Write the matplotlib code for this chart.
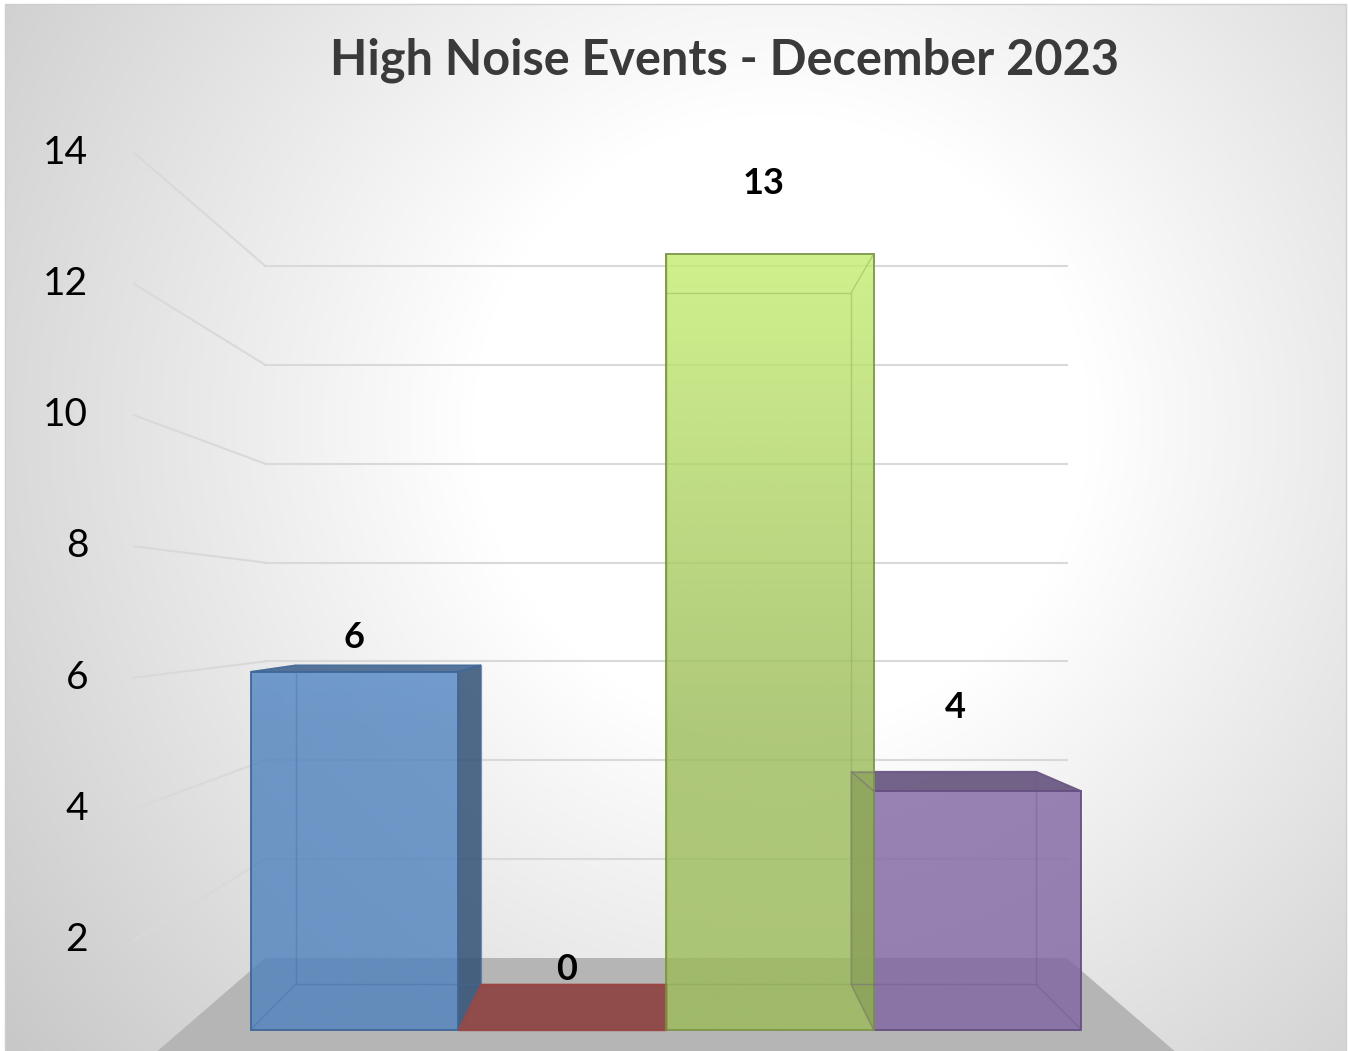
import numpy as np
import matplotlib.pyplot as plt
import matplotlib.colors as mcolors
from matplotlib.patches import Polygon, Rectangle

plt.rcParams['font.family'] = ['Lato', 'DejaVu Sans']

# chart data
title = 'High Noise Events - December 2023'
bar_values = [6, 0, 13, 4]
bar_colors = ['#4F81BD', '#C0504D', '#9BBB59', '#8064A2']
y_ticks = [2, 4, 6, 8, 10, 12, 14]
y_max = 14

# layout of the fake 3-D view (depth scale of each plane about the eye point)
eye_x = len(bar_values) / 2
eye_z = y_max / 2
s_wall, s_bar_back, s_bar_front, s_front = 1.0, 1.076, 1.207, 1.327
wall_x0, wall_x1 = -0.33, len(bar_values) + 0.33
label_depth = [1.21, 1.16, 1.13, 1.12]
label_lift = [0.57, 0.76, 1.68, 1.27]

W, H = 1348, 1051


def proj(x, s, z):
    return eye_x + s * (x - eye_x), eye_z + s * (z - eye_z)


def draw_front(ax, x0, x1, s, v, base, edge):
    pts = [proj(x0, s, 0), proj(x1, s, 0), proj(x1, s, v), proj(x0, s, v)]
    poly = Polygon(pts, closed=True, fc='none', ec=edge, lw=1.3, zorder=3.2)
    ax.add_patch(poly)
    # lighting: face gets brighter high up in the chart
    zz = np.linspace(0, v, 200)[::-1, None]
    gain = 1 + 0.3 * np.clip(zz - 5, 0, None) / 9
    rgb = np.clip(base[None, None, :] * gain[:, :, None], 0, 1)
    rgba = np.concatenate([rgb, np.full(rgb.shape[:2] + (1,), 0.8)], axis=2)
    xs = [p[0] for p in pts]
    ys = [p[1] for p in pts]
    im = ax.imshow(rgba, extent=(min(xs), max(xs), min(ys), max(ys)),
                   aspect='auto', interpolation='bilinear', zorder=3.1)
    im.set_clip_path(poly)


def draw_bar(ax, i, v, color):
    base = np.array(mcolors.to_rgb(color))
    x0, x1 = i, i + 1
    sb, sf = s_bar_back, s_bar_front
    edge = tuple(base * 0.8)

    # side face turned towards the eye
    side_x = None
    if x1 <= eye_x:
        side_x = x1
    elif x0 >= eye_x:
        side_x = x0
    if side_x is not None and v > 0:
        pts = [proj(side_x, sf, 0), proj(side_x, sb, 0),
               proj(side_x, sb, v), proj(side_x, sf, v)]
        ax.add_patch(Polygon(pts, closed=True, fc=tuple(base * 0.62),
                             ec=edge, alpha=0.85, lw=1.0, zorder=3))
    # top face, seen from above when under eye level
    if v < eye_z:
        pts = [proj(x0, sf, v), proj(x1, sf, v), proj(x1, sb, v), proj(x0, sb, v)]
        ax.add_patch(Polygon(pts, closed=True, fc=tuple(base * 0.72),
                             ec=edge, alpha=0.85, lw=1.0, zorder=3))
    if v > 0:
        draw_front(ax, x0, x1, sf, v, base, edge)
    # hidden edges seen through the glass
    hidden = [[proj(x0, sb, 0), proj(x1, sb, 0)],
              [proj(x0, sb, v), proj(x1, sb, v)],
              [proj(x0, sb, 0), proj(x0, sb, v)],
              [proj(x1, sb, 0), proj(x1, sb, v)]]
    for xx in (x0, x1):
        for zz in (0, v):
            hidden.append([proj(xx, sb, zz), proj(xx, sf, zz)])
    for (ax_, ay_), (bx_, by_) in hidden:
        ax.plot([ax_, bx_], [ay_, by_], color=tuple(base * 0.85), lw=1.0,
                alpha=0.4, zorder=3.3, solid_capstyle='butt')


fig = plt.figure(figsize=(W / 100, H / 100), dpi=100)

# background: radial gradient chart area
bg = fig.add_axes([0, 0, 1, 1])
bg.set_xlim(0, W)
bg.set_ylim(H, 0)
bg.axis('off')
yy, xx = np.mgrid[0:H, 0:W]
r = np.hypot(xx - 780, yy - 420)
shade = np.clip(255 - 0.08 * np.maximum(r - 310, 0), 200, 255) / 255.0
img = np.dstack([shade, shade, shade])
bg.imshow(img, extent=(5, 1346, H, 4), interpolation='bilinear', aspect='auto')
bg.add_patch(Rectangle((5, 4), 1341, H, fill=False, ec='#cfcfcf', lw=1.0))

# main 3-D-looking plot
ax = fig.add_axes([0, 0, 1, 1])
ax.patch.set_alpha(0)
ax.set_xlim(-322 / 172, (W - 322) / 172)
ax.set_ylim((958 - H) / 49.43, 958 / 49.43)
ax.axis('off')

# floor
floor = [proj(wall_x0, s_wall, 0), proj(wall_x1, s_wall, 0),
         proj(wall_x1, s_front, 0), proj(wall_x0, s_front, 0)]
ax.add_patch(Polygon(floor, closed=True, fc='#b5b5b5', ec='none', zorder=1))

# gridlines on back and side walls, with tick labels on the front plane
for t in y_ticks:
    bx0, by = proj(wall_x0, s_wall, t)
    bx1, _ = proj(wall_x1, s_wall, t)
    fx, fy = proj(wall_x0, s_front, t)
    ax.plot([bx0, bx1], [by, by], color='#d9d9d9', lw=1.5, zorder=2)
    ax.plot([fx, bx0], [fy, by], color='#d9d9d9', lw=1.5, zorder=2)
    ax.annotate(str(t), (fx, fy), xytext=(-46, 0), textcoords='offset pixels',
                ha='right', va='center', fontsize=28, color='black')

# bars, drawn far-to-near from the eye
order = sorted(range(len(bar_values)), key=lambda k: -abs(k + 0.5 - eye_x))
for n, i in enumerate(order):
    draw_bar(ax, i, bar_values[i], bar_colors[i])

# data labels
for i, v in enumerate(bar_values):
    lx, ly = proj(i + 0.5, label_depth[i], v + label_lift[i])
    ax.text(lx, ly, str(v), ha='center', va='center', fontsize=26,
            fontweight='bold', color='black', zorder=5)

fig.text(725 / W, 1 - 60 / H, title, ha='center', va='center', fontsize=35,
         fontweight='bold', color='#3a3a3a')

fig.savefig('out.png', dpi=100)
